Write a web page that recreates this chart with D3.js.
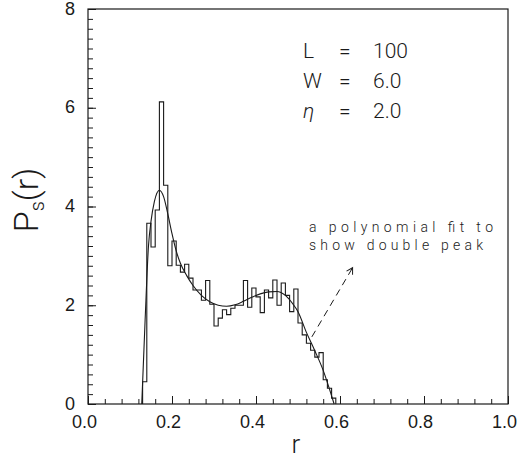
<!DOCTYPE html>
<html>
<head>
<meta charset="utf-8">
<script src="https://cdn.jsdelivr.net/npm/d3@7"></script>
<style>
  body { margin: 0; background: #fff; }
  svg { display: block; font-family: Roboto, "DejaVu Sans", sans-serif; font-weight: 300; }
</style>
</head>
<body>
<div id="viz"></div>
<script>
var width = 519,
    height = 461;

// histogram: left edge of each bin (r) and its height P_s(r)
var binWidth = 0.01;
var histR = [0.13, 0.14, 0.15, 0.16, 0.17, 0.18, 0.19, 0.20, 0.21, 0.22,
             0.23, 0.24, 0.25, 0.26, 0.27, 0.28, 0.29, 0.30, 0.31, 0.32,
             0.33, 0.34, 0.35, 0.36, 0.37, 0.38, 0.39, 0.40, 0.41, 0.42,
             0.43, 0.44, 0.45, 0.46, 0.47, 0.48, 0.49, 0.50, 0.51, 0.52,
             0.53, 0.54, 0.55, 0.56, 0.57, 0.58];
var histP = [0.45, 3.66, 3.18, 3.93, 6.12, 4.43, 2.80, 3.30, 2.81, 2.67,
             2.83, 2.55, 2.31, 2.31, 2.10, 2.50, 2.02, 1.58, 1.74, 1.91,
             1.81, 1.94, 2.00, 2.00, 2.50, 1.96, 2.35, 2.17, 1.85, 2.31,
             2.15, 2.51, 2.00, 2.45, 2.20, 1.87, 2.33, 1.64, 1.40, 1.23,
             1.09, 0.95, 1.04, 0.49, 0.32, 0.12];

// polynomial fit
var fitR = [0.128, 0.136, 0.144, 0.150, 0.158, 0.170, 0.180, 0.190, 0.200, 0.210,
            0.220, 0.235, 0.250, 0.270, 0.290, 0.310, 0.330, 0.350, 0.370, 0.390,
            0.410, 0.430, 0.450, 0.470, 0.490, 0.500, 0.520, 0.540, 0.560, 0.575, 0.586];
var fitP = [0.00, 1.70, 3.20, 3.70, 4.10, 4.33, 4.20, 3.85, 3.45, 3.10,
            2.85, 2.60, 2.40, 2.20, 2.07, 2.00, 1.98, 2.01, 2.08, 2.16,
            2.23, 2.27, 2.28, 2.20, 2.00, 1.87, 1.45, 1.08, 0.68, 0.30, 0.00];

var majorX = [0, 0.2, 0.4, 0.6, 0.8, 1.0];
var minorX = d3.range(0, 1.0001, 0.04);
var majorY = [0, 2, 4, 6, 8];
var minorY = d3.range(0, 8.0001, 0.2);

var params = [["L", "100"], ["W", "6.0"], ["\u03b7", "2.0"]];
var note = ["a polynomial fit to", "show double peak"];
// arrow from the curve to the note, in data units
var arrowFrom = [0.533, 1.36],
    arrowTo = [0.630, 2.76];

var x = d3.scaleLinear().domain([0, 1]).range([88, 508]);
var y = d3.scaleLinear().domain([0, 8]).range([404, 9]);

var svg = d3.select("#viz").append("svg")
    .attr("width", width)
    .attr("height", height);

var ink = "#1a1a1a";

// minor ticks (inward, no labels)
svg.append("g")
    .attr("transform", "translate(0," + y(0) + ")")
    .call(d3.axisBottom(x).tickValues(minorX).tickSize(-5).tickFormat(""))
    .call(function(g) { g.select(".domain").remove(); });
svg.append("g")
    .attr("transform", "translate(" + x(0) + ",0)")
    .call(d3.axisLeft(y).tickValues(minorY).tickSize(-5).tickFormat(""))
    .call(function(g) { g.select(".domain").remove(); });

// major ticks with labels
var xAxis = svg.append("g")
    .attr("transform", "translate(0," + y(0) + ")")
    .call(d3.axisBottom(x).tickValues(majorX).tickSize(-8).tickPadding(11).tickFormat(d3.format(".1f")));
var yAxis = svg.append("g")
    .attr("transform", "translate(" + x(0) + ",0)")
    .call(d3.axisLeft(y).tickValues(majorY).tickSize(-8).tickPadding(13).tickFormat(d3.format("d")));

[xAxis, yAxis].forEach(function(g) {
    g.select(".domain").remove();
    g.selectAll("text").attr("font-size", 18).attr("font-family", null).attr("fill", ink);
});
xAxis.selectAll("text").attr("dx", -4);
yAxis.selectAll("text").attr("dy", "0.28em");
svg.selectAll(".tick line").attr("stroke", ink);

// frame
svg.append("rect")
    .attr("x", x(0)).attr("y", y(8))
    .attr("width", x(1) - x(0)).attr("height", y(0) - y(8))
    .attr("fill", "none").attr("stroke", ink).attr("stroke-width", 1.2);

// histogram outline as a step path
var steps = [[histR[0], 0]];
histR.forEach(function(r, i) {
    steps.push([r, histP[i]]);
    steps.push([r + binWidth, histP[i]]);
});
steps.push([histR[histR.length - 1] + binWidth, 0]);

var line = d3.line()
    .x(function(d) { return x(d[0]); })
    .y(function(d) { return y(d[1]); });

svg.append("path")
    .attr("d", line(steps))
    .attr("fill", "none")
    .attr("stroke", ink)
    .attr("stroke-width", 1.1);

// fitted curve
var fit = fitR.map(function(r, i) { return [r, fitP[i]]; });
svg.append("path")
    .attr("d", line.curve(d3.curveMonotoneX)(fit))
    .attr("fill", "none")
    .attr("stroke", ink)
    .attr("stroke-width", 1.1);

// parameters
var pg = svg.append("g").attr("font-size", 21).attr("fill", ink);
params.forEach(function(p, i) {
    var by = 58 + i * 30;
    pg.append("text").attr("x", 303).attr("y", by).text(p[0])
        .attr("font-style", i == 2 ? "italic" : null);
    pg.append("text").attr("x", 339).attr("y", by).text("=");
    pg.append("text").attr("x", 373).attr("y", by).text(p[1]);
});

// annotation
var ng = svg.append("g").attr("font-size", 14).attr("fill", ink);
ng.append("text").attr("x", 309).attr("y", 232).attr("textLength", 184).text(note[0]);
ng.append("text").attr("x", 309).attr("y", 250).attr("textLength", 174).text(note[1]);

svg.append("defs").append("marker")
    .attr("id", "head")
    .attr("viewBox", "-8 -5 10 10")
    .attr("markerWidth", 10).attr("markerHeight", 10)
    .attr("markerUnits", "userSpaceOnUse")
    .attr("orient", "auto")
    .append("path")
    .attr("d", "M-6,-3.5L0,0L-6,3.5")
    .attr("fill", "none").attr("stroke", ink).attr("stroke-width", 1);

svg.append("line")
    .attr("x1", x(arrowFrom[0])).attr("y1", y(arrowFrom[1]))
    .attr("x2", x(arrowTo[0])).attr("y2", y(arrowTo[1]))
    .attr("stroke", ink).attr("stroke-width", 1)
    .attr("stroke-dasharray", "7,5")
    .attr("marker-end", "url(#head)");

// axis titles
svg.append("text")
    .attr("x", x(0.5) - 2).attr("y", 453)
    .attr("text-anchor", "middle")
    .attr("font-size", 26).attr("fill", ink)
    .text("r");

var yl = svg.append("text")
    .attr("transform", "translate(38,200) rotate(-90)")
    .attr("text-anchor", "middle")
    .attr("font-size", 34).attr("fill", ink);
yl.append("tspan").text("P");
yl.append("tspan").attr("font-size", 20).attr("dy", 6).text("s");
yl.append("tspan").attr("dy", -6).text("(r)");
</script>
</body>
</html>
